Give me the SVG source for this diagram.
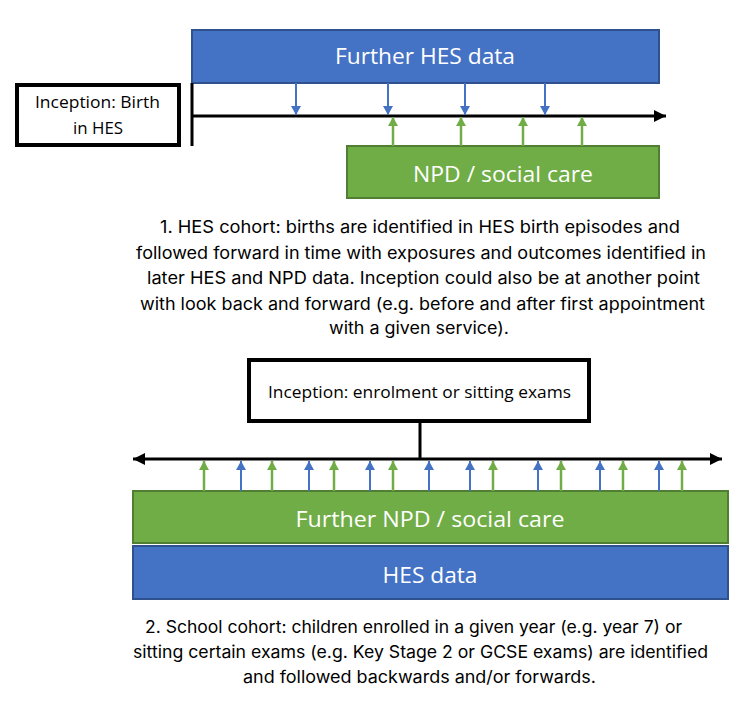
<svg xmlns="http://www.w3.org/2000/svg" width="749" height="715" viewBox="0 0 749 715">
<style>
.bar-blue{fill:#4472C4;stroke:#2F528F;stroke-width:2}
.bar-green{fill:#70AD47;stroke:#507E32;stroke-width:2}
.box{fill:#fff;stroke:#000;stroke-width:4}
.lbl{font-family:"Open Sans","Noto Sans",sans-serif;font-size:21px;fill:#fff;text-anchor:middle}
.blbl{font-family:"Open Sans","Noto Sans",sans-serif;font-size:16px;fill:#000;text-anchor:middle}
.cap{font-family:Inter,"Noto Sans",sans-serif;font-size:17px;fill:#000;text-anchor:middle}
.tl{stroke:#000;stroke-width:3;fill:none}
.ab{stroke:#4472C4;stroke-width:2;marker-end:url(#hb)}
.ag{stroke:#70AD47;stroke-width:2.5;marker-end:url(#hg)}
</style>
<defs>
<marker id="hb" markerUnits="userSpaceOnUse" markerWidth="9" markerHeight="10" refX="9" refY="5" orient="auto" viewBox="0 0 9 10"><path d="M0,0 L9,5 L0,10 z" fill="#4472C4"/></marker>
<marker id="hg" markerUnits="userSpaceOnUse" markerWidth="9" markerHeight="10" refX="9" refY="5" orient="auto" viewBox="0 0 9 10"><path d="M0,0 L9,5 L0,10 z" fill="#70AD47"/></marker>
<marker id="hk" markerUnits="userSpaceOnUse" markerWidth="12" markerHeight="12" refX="12" refY="6" orient="auto" viewBox="0 0 12 12"><path d="M0,0 L12,6 L0,12 z" fill="#000"/></marker>
</defs>

<g id="further-hes-top">
<rect class="bar-blue" x="192" y="30" width="467" height="53"/>
<text class="lbl" x="425" y="64" textLength="180" lengthAdjust="spacingAndGlyphs">Further HES data</text>
</g>
<g id="npd-top">
<rect class="bar-green" x="347" y="146" width="312" height="52"/>
<text class="lbl" x="503" y="182" textLength="180" lengthAdjust="spacingAndGlyphs">NPD / social care</text>
</g>
<g id="inception-birth">
<rect class="box" x="17" y="85" width="162" height="60"/>
<text class="blbl" x="97.5" y="108" textLength="125" lengthAdjust="spacingAndGlyphs">Inception: Birth</text>
<text class="blbl" x="98" y="134" textLength="50" lengthAdjust="spacingAndGlyphs">in HES</text>
</g>

<g id="inception-school">
<rect class="box" x="249" y="360" width="340" height="61"/>
<text class="blbl" x="419.5" y="398" textLength="303" lengthAdjust="spacingAndGlyphs">Inception: enrolment or sitting exams</text>
</g>
<g id="further-npd-bottom">
<rect class="bar-green" x="133" y="491" width="595" height="52"/>
<text class="lbl" x="430" y="527" textLength="269" lengthAdjust="spacingAndGlyphs">Further NPD / social care</text>
</g>
<g id="hes-bottom">
<rect class="bar-blue" x="133" y="546" width="595" height="53"/>
<text class="lbl" x="430" y="583" textLength="95" lengthAdjust="spacingAndGlyphs">HES data</text>
</g>

<g id="connectors">
<line class="tl" x1="192" y1="83" x2="192" y2="146"/>
<line class="tl" x1="192" y1="116" x2="666" y2="116" marker-end="url(#hk)"/>
<line class="ab" x1="296" y1="83" x2="296" y2="115"/>
<line class="ab" x1="388" y1="83" x2="388" y2="115"/>
<line class="ab" x1="465" y1="83" x2="465" y2="115"/>
<line class="ab" x1="545" y1="83" x2="545" y2="115"/>
<line class="ag" x1="393" y1="146" x2="393" y2="117"/>
<line class="ag" x1="461" y1="146" x2="461" y2="117"/>
<line class="ag" x1="523" y1="146" x2="523" y2="117"/>
<line class="ag" x1="582" y1="146" x2="582" y2="117"/>

<line class="tl" x1="420" y1="421" x2="420" y2="459"/>
<line class="tl" x1="420" y1="459" x2="133" y2="459" marker-end="url(#hk)"/>
<line class="tl" x1="420" y1="459" x2="722" y2="459" marker-end="url(#hk)"/>
<line class="ag" x1="204" y1="491" x2="204" y2="461"/>
<line class="ag" x1="272" y1="491" x2="272" y2="461"/>
<line class="ag" x1="334" y1="491" x2="334" y2="461"/>
<line class="ag" x1="393" y1="491" x2="393" y2="461"/>
<line class="ag" x1="493" y1="491" x2="493" y2="461"/>
<line class="ag" x1="561" y1="491" x2="561" y2="461"/>
<line class="ag" x1="623" y1="491" x2="623" y2="461"/>
<line class="ag" x1="682" y1="491" x2="682" y2="461"/>
<line class="ab" x1="241" y1="491" x2="241" y2="461"/>
<line class="ab" x1="309" y1="491" x2="309" y2="461"/>
<line class="ab" x1="370" y1="491" x2="370" y2="461"/>
<line class="ab" x1="429" y1="491" x2="429" y2="461"/>
<line class="ab" x1="470" y1="491" x2="470" y2="461"/>
<line class="ab" x1="538" y1="491" x2="538" y2="461"/>
<line class="ab" x1="600" y1="491" x2="600" y2="461"/>
<line class="ab" x1="659" y1="491" x2="659" y2="461"/>
</g>

<g id="caption-1">
<text class="cap" x="420" y="233" textLength="520" lengthAdjust="spacingAndGlyphs">1. HES cohort: births are identified in HES birth episodes and</text>
<text class="cap" x="421" y="259" textLength="570" lengthAdjust="spacingAndGlyphs">followed forward in time with exposures and outcomes identified in</text>
<text class="cap" x="423.5" y="284" textLength="553" lengthAdjust="spacingAndGlyphs">later HES and NPD data. Inception could also be at another point</text>
<text class="cap" x="422.5" y="310" textLength="565" lengthAdjust="spacingAndGlyphs">with look back and forward (e.g. before and after first appointment</text>
<text class="cap" x="419" y="334" textLength="180" lengthAdjust="spacingAndGlyphs">with a given service).</text>
</g>
<g id="caption-2">
<text class="cap" x="413.5" y="633" textLength="537" lengthAdjust="spacingAndGlyphs">2. School cohort: children enrolled in a given year (e.g. year 7) or</text>
<text class="cap" x="420.5" y="658" textLength="575" lengthAdjust="spacingAndGlyphs">sitting certain exams (e.g. Key Stage 2 or GCSE exams) are identified</text>
<text class="cap" x="419.5" y="683" textLength="353" lengthAdjust="spacingAndGlyphs">and followed backwards and/or forwards.</text>
</g>
</svg>
